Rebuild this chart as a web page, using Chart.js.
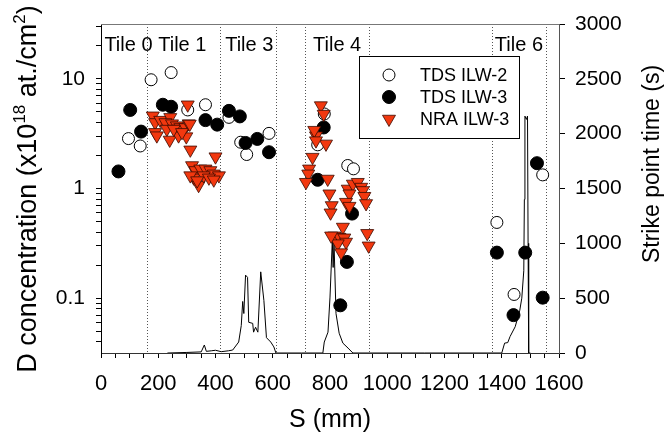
<!DOCTYPE html>
<html>
<head>
<meta charset="utf-8">
<script src="https://cdn.jsdelivr.net/npm/chart.js@4/dist/chart.umd.min.js"></script>
<style>
  html, body { margin: 0; padding: 0; background: #fff; }
  canvas { display: block; }
</style>
</head>
<body>
<canvas id="chart" width="668" height="435"></canvas>
<script>
// ---- data ----
// TDS ILW-2 (open circles): S in mm, D in 1e18 at./cm2
var ILW2_S = [96, 137, 175, 245, 303, 365, 447, 488, 509, 587, 757, 780, 862, 882, 1383, 1443, 1543];
var ILW2_D = [2.85, 2.44, 9.8, 11.4, 5.2, 5.8, 4.45, 2.64, 2.04, 3.18, 2.5, 4.78, 1.62, 1.51, 0.49, 0.108, 1.33];

// TDS ILW-3 (filled circles)
var ILW3_S = [61, 102, 140, 216, 245, 365, 406, 447, 485, 505, 546, 587, 757, 778, 836, 859, 877, 1383, 1441, 1482, 1523, 1543];
var ILW3_D = [1.43, 5.2, 3.3, 5.8, 5.56, 4.2, 3.82, 5.1, 4.54, 2.6, 2.83, 2.14, 1.2, 3.6, 0.086, 0.214, 0.59, 0.26, 0.07, 0.26, 1.7, 0.101];

// NRA ILW-3 (red triangles)
var NRA_S = [181, 189, 207, 242, 225, 248, 265, 277, 295, 306, 189, 230, 240, 271, 298, 312, 195, 254, 283, 303, 310, 400,
             318, 330, 347, 365, 382, 394, 412, 324, 341, 359, 377, 394, 312, 336,
             768, 778, 751, 745, 786, 751, 739, 727, 724, 716, 792, 798, 806, 802, 862, 880, 897, 909, 915, 920, 926,
             868, 856, 868, 845, 815, 833, 850, 856, 827, 839, 930, 935, 804];
var NRA_D = [4.6, 4.0, 4.2, 4.45, 4.0, 3.9, 3.74, 3.6, 3.6, 3.9, 3.25, 3.48, 2.77, 3.03, 2.97, 2.25, 3.03, 3.48, 3.25, 5.8, 3.87, 1.95,
             1.62, 1.46, 1.51, 1.51, 1.46, 1.36, 1.31, 1.25, 1.07, 1.31, 1.25, 1.2, 1.31, 1.18,
             5.7, 4.77, 3.03, 3.4, 2.55, 2.73, 1.93, 1.51, 1.36, 1.14, 1.22, 0.895, 0.7, 0.6, 0.99, 1.1, 1.14, 1.03, 0.96, 0.85, 0.73,
             0.895, 0.75, 0.69, 0.445, 0.37, 0.36, 0.355, 0.325, 0.314, 0.26, 0.39, 0.30, 0.37];

// strike point time (right axis), s
var STRIKE_S = [232, 300, 350, 361, 368, 385, 400, 420, 445, 460, 481, 490, 495, 499, 505, 512, 516, 530, 533, 540, 548,
                558, 569, 578, 593, 604, 611, 700, 775, 780, 793, 800, 808, 811, 814, 821, 832, 845, 863, 880, 1130,
                1400, 1410, 1421, 1429, 1447, 1463, 1470, 1477, 1479, 1481, 1486, 1490, 1492, 1494, 1500];
var STRIKE_T = [0, 5, 10, 73, 15, 20, 25, 12, 20, 27, 100, 250, 470, 360, 710, 690, 280, 270, 190, 235, 190,
                740, 480, 140, 100, 55, 0, 0, 0, 100, 190, 510, 1020, 780, 1010, 360, 180, 90, 45, 0, 0,
                0, 90, 95, 150, 240, 390, 500, 750, 1400, 2160, 2130, 2160, 1000, 0, 0];

// tiles
var TILE_EDGES = [162, 416, 611, 714, 936, 1366, 1556];
var TILE_NAMES = ['Tile 0', 'Tile 1', 'Tile 3', 'Tile 4', 'Tile 6'];
var TILE_LABEL_S = [96, 284, 518, 825, 1460];

// axis ticks
var X_LABELS = [0, 200, 400, 600, 800, 1000, 1200, 1400, 1600];
var LEFT_LABELS = [0.1, 1, 10];
var RIGHT_LABELS = [0, 500, 1000, 1500, 2000, 2500, 3000];

var FONT = '"Liberation Sans", Arial, sans-serif';

function pts(xs, ys) {
  return xs.map(function (x, i) { return { x: x, y: ys[i] }; });
}

// minor ticks for the log axis: 2..9 within each decade
function logTicks(lo, hi) {
  var out = [];
  for (var e = -2; e <= 1; e++) {
    for (var m = 1; m <= 9; m++) {
      var v = parseFloat((m * Math.pow(10, e)).toPrecision(3));
      if (v >= lo && v <= hi) out.push({ value: v });
    }
  }
  return out;
}

var decor = {
  id: 'decor',
  beforeDatasetsDraw: function (chart) {
    var ctx = chart.ctx, a = chart.chartArea, xs = chart.scales.x;
    ctx.save();
    // tile boundaries
    ctx.strokeStyle = '#555';
    ctx.lineWidth = 1;
    ctx.setLineDash([1, 2]);
    TILE_EDGES.forEach(function (s) {
      var x = Math.round(xs.getPixelForValue(s)) + 0.5;
      ctx.beginPath(); ctx.moveTo(x, a.top); ctx.lineTo(x, a.bottom); ctx.stroke();
    });
    ctx.setLineDash([]);
    // top frame line
    ctx.strokeStyle = '#777';
    ctx.beginPath(); ctx.moveTo(a.left, a.top + 0.5); ctx.lineTo(a.right, a.top + 0.5); ctx.stroke();
    // tile names
    ctx.fillStyle = '#000';
    ctx.font = '20px ' + FONT;
    ctx.textAlign = 'center';
    ctx.textBaseline = 'alphabetic';
    TILE_NAMES.forEach(function (n, i) {
      ctx.fillText(n, xs.getPixelForValue(TILE_LABEL_S[i]), a.top + 27);
    });
    ctx.restore();
  },
  afterDraw: function (chart) {
    var ctx = chart.ctx, a = chart.chartArea;
    ctx.save();

    // legend box
    ctx.fillStyle = '#fff';
    ctx.fillRect(359, 56, 160, 82);
    ctx.strokeStyle = '#000';
    ctx.lineWidth = 1;
    ctx.strokeRect(359.5, 56.5, 160, 82);
    ctx.font = '18px ' + FONT;
    ctx.textAlign = 'left';
    ctx.textBaseline = 'middle';
    [0, 1, 2].forEach(function (i) {
      var ds = chart.data.datasets[i];
      var y = 75 + i * 22;
      ctx.fillStyle = ds.backgroundColor;
      ctx.strokeStyle = ds.borderColor;
      ctx.lineWidth = ds.pointBorderWidth;
      Chart.helpers.drawPoint(ctx, {
        pointStyle: ds.pointStyle, radius: ds.pointRadius, rotation: ds.rotation || 0,
        borderWidth: ds.pointBorderWidth
      }, 389, y);
      ctx.fillStyle = '#000';
      ctx.fillText(ds.label, 420, y + 1);
    });

    // x title
    ctx.fillStyle = '#000';
    ctx.font = '25px ' + FONT;
    ctx.textAlign = 'center';
    ctx.textBaseline = 'alphabetic';
    ctx.fillText('S (mm)', (a.left + a.right) / 2, 427);

    // right title
    ctx.save();
    ctx.translate(659, 164);
    ctx.rotate(-Math.PI / 2);
    ctx.font = '23px ' + FONT;
    ctx.fillText('Strike point time (s)', 0, 0);
    ctx.restore();

    // left title with superscripts
    var parts = [
      ['D concentration (x10', 27, 0], ['18', 17, -11], [' at./cm', 27, 0], ['2', 17, -11], [')', 27, 0]
    ];
    var total = 0;
    parts.forEach(function (p) { ctx.font = p[1] + 'px ' + FONT; total += ctx.measureText(p[0]).width; });
    ctx.save();
    ctx.translate(36, 189);
    ctx.rotate(-Math.PI / 2);
    ctx.textAlign = 'left';
    var x = -total / 2;
    parts.forEach(function (p) {
      ctx.font = p[1] + 'px ' + FONT;
      ctx.fillText(p[0], x, p[2]);
      x += ctx.measureText(p[0]).width;
    });
    ctx.restore();

    ctx.restore();
  }
};

var tickFont = { family: FONT, size: 21 };

new Chart(document.getElementById('chart'), {
  type: 'scatter',
  data: {
    datasets: [
      {
        label: 'TDS ILW-2', data: pts(ILW2_S, ILW2_D), yAxisID: 'y',
        pointStyle: 'circle', pointRadius: 6, pointBorderWidth: 1,
        backgroundColor: '#fff', borderColor: '#000', order: 2
      },
      {
        label: 'TDS ILW-3', data: pts(ILW3_S, ILW3_D), yAxisID: 'y',
        pointStyle: 'circle', pointRadius: 6.5, pointBorderWidth: 1,
        backgroundColor: '#000', borderColor: '#000', order: 1
      },
      {
        label: 'NRA ILW-3', data: pts(NRA_S, NRA_D), yAxisID: 'y',
        pointStyle: 'triangle', rotation: 180, pointRadius: 7.5, pointBorderWidth: 0.8,
        backgroundColor: '#f2380f', borderColor: '#3a0a00', order: 0
      },
      {
        label: 'Strike point time', data: pts(STRIKE_S, STRIKE_T), yAxisID: 'y2',
        showLine: true, pointRadius: 0, borderColor: '#000', borderWidth: 1, order: 3
      }
    ]
  },
  options: {
    responsive: false,
    animation: false,
    devicePixelRatio: 1,
    layout: { padding: { top: 24, left: 0, right: 0, bottom: 0 } },
    plugins: { legend: { display: false }, tooltip: { enabled: false } },
    scales: {
      x: {
        type: 'linear', min: 0, max: 1600,
        afterBuildTicks: function (s) {
          var t = [];
          for (var v = 0; v <= 1600; v += 50) t.push({ value: v });
          s.ticks = t;
        },
        afterFit: function (s) { s.height = 82; },
        ticks: {
          autoSkip: false, maxRotation: 0, padding: 13, color: '#000', font: { family: FONT, size: 22 },
          callback: function (v) { return X_LABELS.indexOf(v) >= 0 ? String(v) : ''; }
        },
        grid: { drawOnChartArea: false, tickLength: 5, color: '#000' },
        border: { display: true, color: '#333', width: 1 }
      },
      y: {
        type: 'logarithmic', position: 'left', min: 0.0316, max: 31.6,
        afterBuildTicks: function (s) { s.ticks = logTicks(0.0316, 31.6); },
        afterFit: function (s) { s.width = 101; },
        ticks: {
          autoSkip: false, padding: 11, color: '#000', font: tickFont,
          callback: function (v) { return LEFT_LABELS.indexOf(v) >= 0 ? String(v) : ''; }
        },
        grid: { drawOnChartArea: false, tickLength: 5, color: '#000' },
        border: { display: true, color: '#000', width: 1 }
      },
      y2: {
        type: 'linear', position: 'right', min: 0, max: 3000,
        afterBuildTicks: function (s) { s.ticks = RIGHT_LABELS.map(function (v) { return { value: v }; }); },
        afterFit: function (s) { s.width = 109; },
        ticks: {
          padding: 10, color: '#000', font: tickFont,
          callback: function (v) { return String(v); }
        },
        grid: { drawOnChartArea: false, tickLength: 6, color: '#000' },
        border: { display: true, color: '#555', width: 1 }
      }
    }
  },
  plugins: [decor]
});
</script>
</body>
</html>
